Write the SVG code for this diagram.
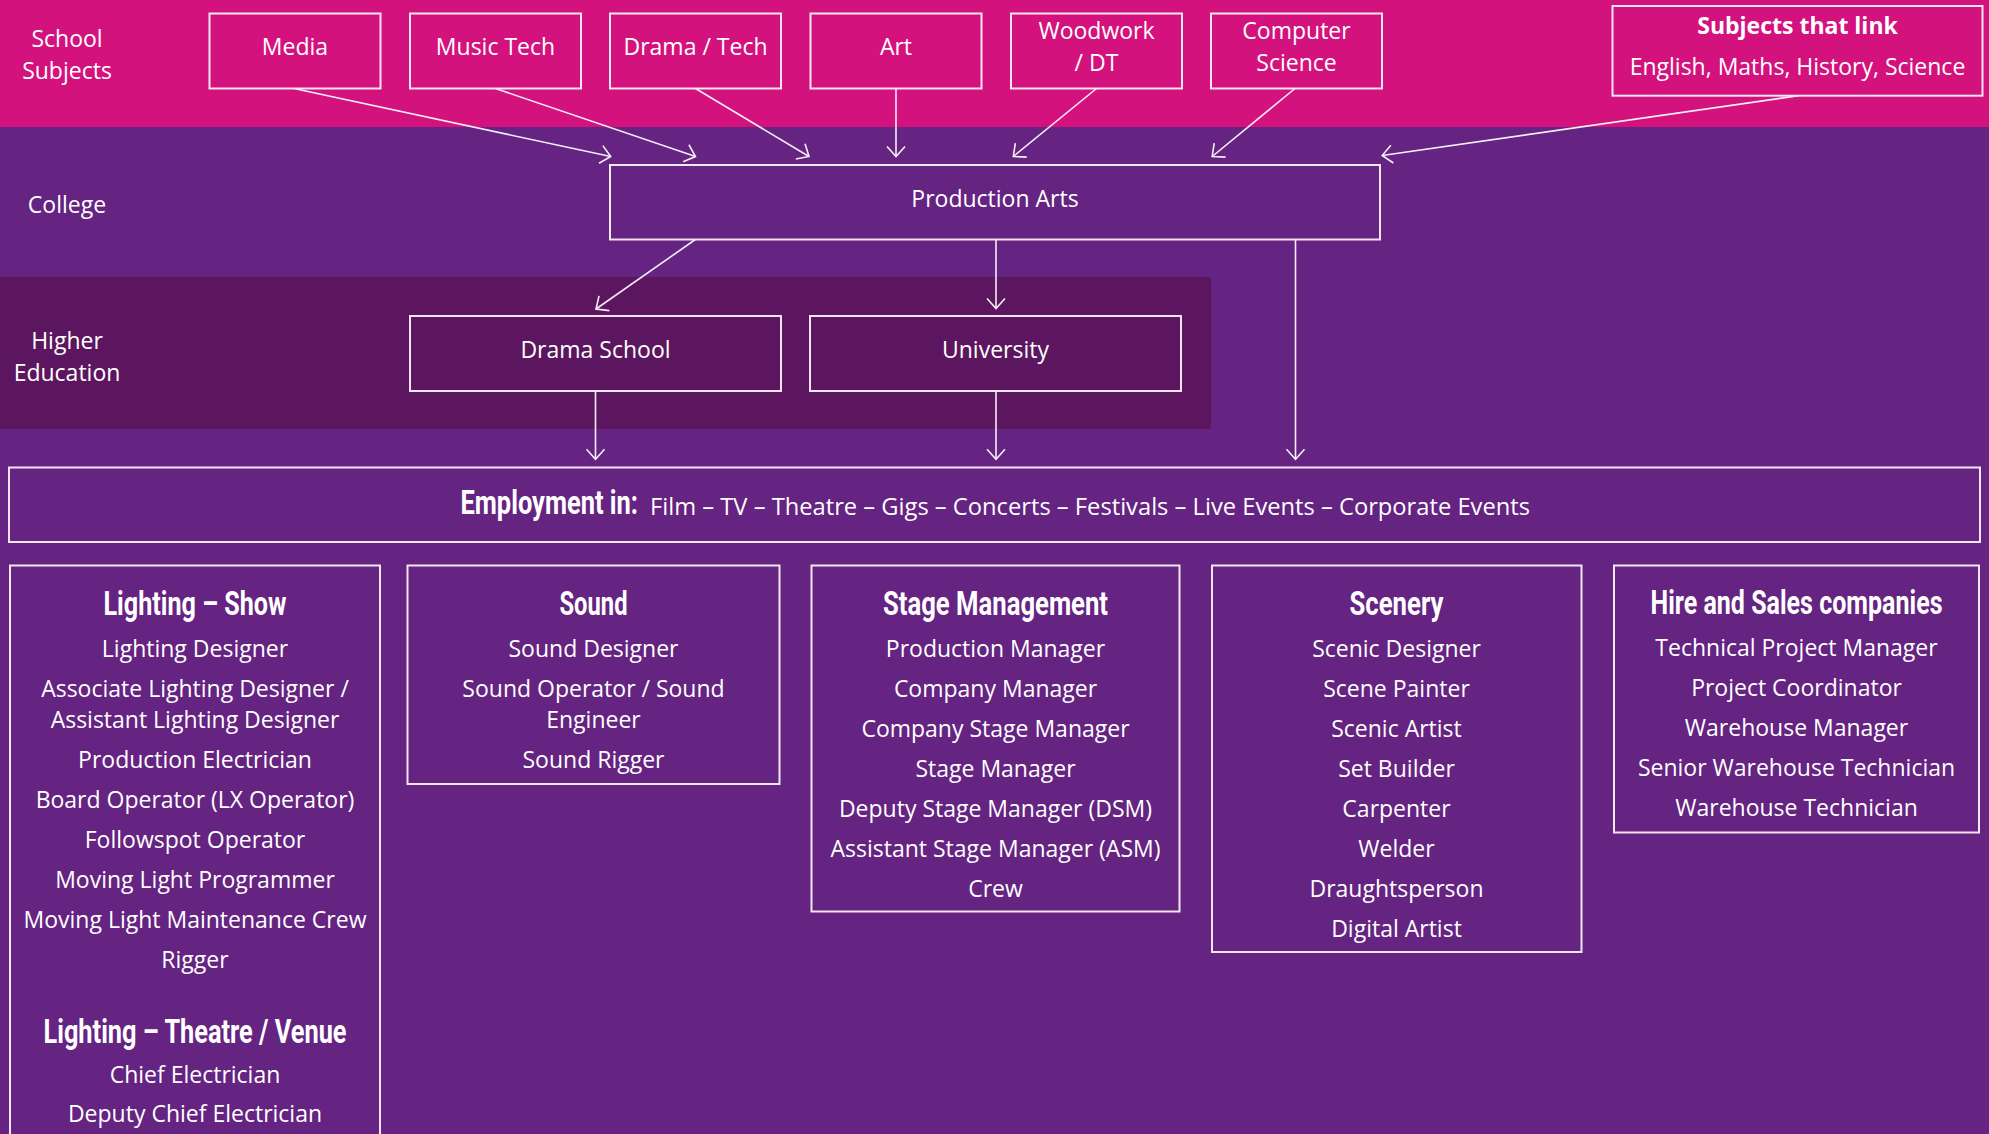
<svg xmlns="http://www.w3.org/2000/svg" width="1989" height="1134" viewBox="0 0 1989 1134">
<defs>
<style>
.t{font-family:"Open Sans","Noto Sans",sans-serif;font-size:23px;fill:#ffffff;text-anchor:middle}
.b{font-weight:700}
.h{font-family:Roboto,"DejaVu Sans Condensed",sans-serif;font-weight:700;font-size:33px;fill:#ffffff;text-anchor:middle}
.box{fill:none;stroke:#f3e6f2;stroke-width:2}
.c{fill:none;stroke:#f6eef6;stroke-width:1.6}
</style>
<marker id="ah" markerUnits="userSpaceOnUse" markerWidth="30" markerHeight="30" viewBox="-15 -15 30 30" refX="0" refY="0" orient="auto" overflow="visible">
<path d="M-10,-9 L0,0 L-10,9" fill="none" stroke="#f6eef6" stroke-width="1.6"/>
</marker>
</defs>

<g id="background">
<rect x="0" y="0" width="1989" height="1134" fill="#652382"/>
<rect x="0" y="0" width="1989" height="127" fill="#D4127E"/>
<rect x="0" y="277" width="1211" height="152" fill="#5C1660"/>
</g>

<g id="lane-labels">
<text class="t" x="67" y="46.7">School</text>
<text class="t" x="67" y="78.5">Subjects</text>
<text class="t" x="67" y="213.3">College</text>
<text class="t" x="67" y="349.3">Higher</text>
<text class="t" x="67" y="380.7">Education</text>
</g>

<g id="connectors">
<line class="c" x1="294" y1="88.5" x2="610.7" y2="156.5" marker-end="url(#ah)"/>
<line class="c" x1="495.5" y1="88.5" x2="695.5" y2="156.5" marker-end="url(#ah)"/>
<line class="c" x1="695.5" y1="88.5" x2="809" y2="156.5" marker-end="url(#ah)"/>
<line class="c" x1="896" y1="88.5" x2="896" y2="156.5" marker-end="url(#ah)"/>
<line class="c" x1="1096.5" y1="88.5" x2="1013.3" y2="156.5" marker-end="url(#ah)"/>
<line class="c" x1="1295" y1="88.5" x2="1212.2" y2="156.5" marker-end="url(#ah)"/>
<line class="c" x1="1798.7" y1="95.7" x2="1382.2" y2="155.5" marker-end="url(#ah)"/>
<line class="c" x1="695.4" y1="239.5" x2="596" y2="309" marker-end="url(#ah)"/>
<line class="c" x1="996" y1="239.5" x2="996" y2="308.5" marker-end="url(#ah)"/>
<line class="c" x1="1295.5" y1="239.5" x2="1295.5" y2="459.3" marker-end="url(#ah)"/>
<line class="c" x1="595.5" y1="391" x2="595.5" y2="459.3" marker-end="url(#ah)"/>
<line class="c" x1="996" y1="391" x2="996" y2="459.3" marker-end="url(#ah)"/>
</g>

<g id="media"><rect class="box" x="209.5" y="13.5" width="171" height="75"/><text class="t" x="295" y="55">Media</text></g>
<g id="music-tech"><rect class="box" x="410" y="13.5" width="171" height="75"/><text class="t" x="495.5" y="55">Music Tech</text></g>
<g id="drama-tech"><rect class="box" x="610" y="13.5" width="171" height="75"/><text class="t" x="695.5" y="55">Drama / Tech</text></g>
<g id="art"><rect class="box" x="810.5" y="13.5" width="171" height="75"/><text class="t" x="896" y="55">Art</text></g>
<g id="woodwork-dt"><rect class="box" x="1011" y="13.5" width="171" height="75"/><text class="t" x="1096.5" y="39.3">Woodwork</text><text class="t" x="1096.5" y="71">/ DT</text></g>
<g id="computer-science"><rect class="box" x="1211" y="13.5" width="171" height="75"/><text class="t" x="1296.5" y="39.3">Computer</text><text class="t" x="1296.5" y="71">Science</text></g>
<g id="subjects-that-link"><rect class="box" x="1612.5" y="6" width="370" height="89.7"/><text class="t b" x="1797.5" y="34.3">Subjects that link</text><text class="t" x="1797.5" y="75">English, Maths, History, Science</text></g>

<g id="production-arts"><rect class="box" x="610" y="165" width="770" height="74.5"/><text class="t" x="995" y="206.7">Production Arts</text></g>
<g id="drama-school"><rect class="box" x="410" y="316" width="371" height="75"/><text class="t" x="595.5" y="357.7">Drama School</text></g>
<g id="university"><rect class="box" x="810" y="316" width="371" height="75"/><text class="t" x="995.5" y="357.7">University</text></g>

<g id="employment"><rect class="box" x="9" y="467.5" width="1971" height="74.5"/>
<text class="h" transform="translate(460.5,514) scale(0.78,1)" x="0" y="0" style="text-anchor:start" textLength="227.6" lengthAdjust="spacingAndGlyphs">Employment in:</text>
<text class="t" x="650" y="515" style="text-anchor:start" textLength="880" lengthAdjust="spacingAndGlyphs">Film – TV – Theatre – Gigs – Concerts – Festivals – Live Events – Corporate Events</text>
</g>

<g id="lighting">
<rect class="box" x="10" y="565.5" width="370" height="620"/>
<text class="h" transform="translate(195,615) scale(0.78,1)" x="0" y="0" textLength="234.6" lengthAdjust="spacingAndGlyphs">Lighting – Show</text>
<text class="t" x="195" y="656.7">Lighting Designer</text>
<text class="t" x="195" y="696.7">Associate Lighting Designer /</text>
<text class="t" x="195" y="728.3">Assistant Lighting Designer</text>
<text class="t" x="195" y="768.3">Production Electrician</text>
<text class="t" x="195" y="808.3">Board Operator (LX Operator)</text>
<text class="t" x="195" y="848.3">Followspot Operator</text>
<text class="t" x="195" y="888.3">Moving Light Programmer</text>
<text class="t" x="195" y="928.3">Moving Light Maintenance Crew</text>
<text class="t" x="195" y="968.3">Rigger</text>
<text class="h" transform="translate(195,1042.7) scale(0.78,1)" x="0" y="0" textLength="388.5" lengthAdjust="spacingAndGlyphs">Lighting – Theatre / Venue</text>
<text class="t" x="195" y="1082.7">Chief Electrician</text>
<text class="t" x="195" y="1121.7">Deputy Chief Electrician</text>
</g>

<g id="sound">
<rect class="box" x="407.5" y="565.5" width="372" height="218.5"/>
<text class="h" transform="translate(593.5,615) scale(0.78,1)" x="0" y="0" textLength="87.2" lengthAdjust="spacingAndGlyphs">Sound</text>
<text class="t" x="593.5" y="656.7">Sound Designer</text>
<text class="t" x="593.5" y="696.7">Sound Operator / Sound</text>
<text class="t" x="593.5" y="728.3">Engineer</text>
<text class="t" x="593.5" y="768.3">Sound Rigger</text>
</g>

<g id="stage-management">
<rect class="box" x="811.5" y="565.5" width="368" height="346"/>
<text class="h" transform="translate(995.5,615) scale(0.78,1)" x="0" y="0" textLength="288.5" lengthAdjust="spacingAndGlyphs">Stage Management</text>
<text class="t" x="995.5" y="656.7">Production Manager</text>
<text class="t" x="995.5" y="696.7">Company Manager</text>
<text class="t" x="995.5" y="736.7">Company Stage Manager</text>
<text class="t" x="995.5" y="776.7">Stage Manager</text>
<text class="t" x="995.5" y="816.7">Deputy Stage Manager (DSM)</text>
<text class="t" x="995.5" y="856.7">Assistant Stage Manager (ASM)</text>
<text class="t" x="995.5" y="896.7">Crew</text>
</g>

<g id="scenery">
<rect class="box" x="1212" y="565.5" width="369.5" height="386.5"/>
<text class="h" transform="translate(1396.5,615) scale(0.78,1)" x="0" y="0" textLength="120.5" lengthAdjust="spacingAndGlyphs">Scenery</text>
<text class="t" x="1396.5" y="656.7">Scenic Designer</text>
<text class="t" x="1396.5" y="696.7">Scene Painter</text>
<text class="t" x="1396.5" y="736.7">Scenic Artist</text>
<text class="t" x="1396.5" y="776.7">Set Builder</text>
<text class="t" x="1396.5" y="816.7">Carpenter</text>
<text class="t" x="1396.5" y="856.7">Welder</text>
<text class="t" x="1396.5" y="896.7">Draughtsperson</text>
<text class="t" x="1396.5" y="936.7">Digital Artist</text>
</g>

<g id="hire-and-sales">
<rect class="box" x="1614" y="565.5" width="365" height="267"/>
<text class="h" transform="translate(1796.5,614) scale(0.78,1)" x="0" y="0" textLength="374.4" lengthAdjust="spacingAndGlyphs">Hire and Sales companies</text>
<text class="t" x="1796.5" y="656">Technical Project Manager</text>
<text class="t" x="1796.5" y="696">Project Coordinator</text>
<text class="t" x="1796.5" y="736">Warehouse Manager</text>
<text class="t" x="1796.5" y="776">Senior Warehouse Technician</text>
<text class="t" x="1796.5" y="816">Warehouse Technician</text>
</g>
</svg>
